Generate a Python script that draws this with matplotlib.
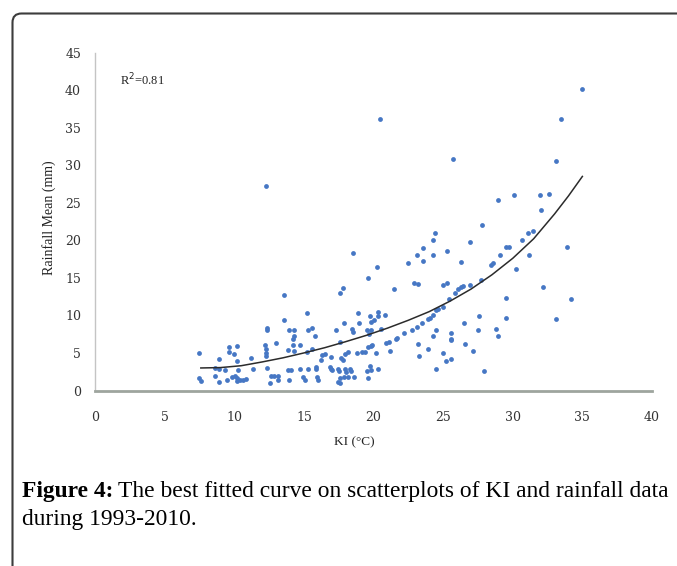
import matplotlib
matplotlib.use("Agg")
import matplotlib.pyplot as plt
from matplotlib.patches import FancyBboxPatch

# scatter points: KI (degC) and rainfall mean (mm)
ki = [
    7.49, 7.5, 7.6, 8.59, 8.93, 8.88, 8.64, 8.93, 9.33, 9.45, 9.6, 9.6, 9.98, 10.19, 10.19,
    10.24, 9.83, 10.05, 10.22, 10.17, 10.39, 10.63, 10.87, 11.2, 11.32,
    12.28, 13.59, 12.33, 12.33, 12.2, 12.3, 12.25, 12.3, 12.33, 12.63, 12.87, 13.16, 12.56,
    13.16, 12.97, 13.55, 13.83, 13.9, 14.3, 14.3, 14.24, 14.24, 14.72, 14.3, 13.88, 14.07,
    13.95, 14.72, 15.2, 15.3, 15.6, 15.8, 15.25, 15.6, 15.27, 14.95, 15.08, 15.9, 15.87,
    15.92, 15.98, 16.27, 16.5, 16.2, 16.94, 16.94, 17.03, 16.9,
    17.3, 17.59, 17.82, 17.85, 17.59, 17.47, 17.52, 17.59, 17.47, 17.82, 17.66, 17.95,
    18.14, 17.9, 18.18, 17.95, 18.3, 18.38, 18.6, 18.43, 18.55, 18.9, 18.95, 18.78, 19.14,
    19.5, 19.85, 19.66, 19.85, 20.0, 19.74, 20.34, 20.34, 19.58, 19.8, 19.86, 19.38, 19.74,
    19.81, 19.5, 19.58, 20.3, 20.2, 20.82, 20.53, 20.9, 21.13, 21.2, 21.5, 21.6, 21.7, 22.2,
    22.8, 18.0, 17.6, 18.5, 20.27, 19.58, 20.5,
    22.9, 23.2, 24.96, 25.3, 25.84, 26.1, 26.25, 26.4, 26.9, 25.43, 24.5, 24.65, 25.0,
    24.24, 23.93, 24.05, 23.45, 23.14, 24.48, 24.29, 23.2, 23.28, 23.93, 24.48, 25.0, 25.2,
    25.56, 25.53, 25.6, 25.6, 26.5, 26.56, 27.16, 27.5, 27.6, 27.9, 28.8, 28.95, 29.48,
    29.55, 32.2, 33.1, 34.2,
    30.1, 31.95, 32.6, 28.95, 32.0, 27.76, 24.4, 24.24, 23.57, 23.14, 23.57, 24.29, 25.3,
    26.92, 26.25, 22.5, 30.63, 31.1, 31.47, 29.55, 29.74, 29.07, 28.6, 28.43, 31.16, 30.22,
    33.9, 27.7, 33.5, 25.72, 33.1, 35.0,
]
rain = [
    4.97, 1.6, 1.25, 1.97, 1.17, 4.19, 3.05, 2.9, 2.77, 1.4, 5.77, 5.1, 4.89, 5.95, 3.9,
    2.73, 1.76, 1.93, 1.62, 1.25, 1.35, 1.4, 1.5, 4.35, 2.89,
    27.2, 12.65, 8.35, 8.1, 6.0, 5.5, 5.0, 4.6, 2.97, 1.9, 1.9, 1.9, 1.04,
    1.4, 6.36, 9.45, 5.33, 8.0, 8.0, 7.3, 6.9, 6.0, 6.0, 5.23, 2.7, 2.76,
    1.4, 2.9, 10.3, 8.0, 8.36, 7.3, 5.1, 5.46, 2.9, 1.86, 1.4, 3.1, 2.8,
    1.8, 1.43, 4.66, 4.9, 4.0, 4.43, 2.9, 2.76, 3.1,
    8.06, 13.0, 13.68, 8.97, 6.5, 2.9, 2.6, 1.62, 1.18, 4.0, 4.3, 4.9,
    5.1, 1.8, 1.8, 2.9, 2.9, 2.6, 1.86, 8.2, 7.76, 10.3, 8.97, 4.97, 5.1,
    8.1, 8.0, 7.5, 9.1, 9.4, 9.95, 10.5, 9.98, 5.8, 5.9, 6.0, 5.1, 3.2,
    2.77, 2.57, 1.62, 2.9, 4.97, 10.0, 8.2, 6.3, 6.43, 5.23, 13.45, 6.9, 7.0, 7.7,
    8.0, 2.44, 1.0, 18.3, 16.5, 14.95, 36.2,
    14.3, 14.2, 14.0, 14.3, 13.0, 13.5, 13.75, 13.85, 14.0, 12.2, 10.75, 10.9, 11.1,
    10.1, 9.55, 9.65, 9.0, 8.5, 8.0, 7.3, 6.2, 4.6, 5.55, 2.9, 4.97, 3.9,
    4.2, 7.63, 6.9, 6.75, 9.0, 6.2, 5.23, 8.0, 9.9, 2.6, 8.2, 7.3, 12.3,
    9.67, 13.8, 9.55, 12.2,
    26.06, 26.06, 26.2, 25.4, 24.06, 22.06, 21.0, 20.06, 18.95, 18.07, 17.2, 18.07, 18.55,
    19.75, 17.1, 17.0, 20.06, 21.0, 21.3, 19.08, 19.08, 18.07, 17.04, 16.7, 18.1, 16.2,
    19.08, 14.7, 36.2, 30.8, 30.5, 40.2,
]

# fitted curve
curve_x = [7.6, 9.0, 10.5, 12.0, 13.5, 15.0, 16.5, 18.0, 19.5, 21.0, 22.5,
           24.0, 25.5, 27.0, 28.5, 30.0, 31.5, 33.0, 34.0, 35.0]
curve_y = [3.0, 3.05, 3.3, 3.8, 4.35, 5.0, 5.7, 6.5, 7.35, 8.3, 9.35,
           10.5, 11.9, 13.5, 15.4, 17.6, 20.2, 23.5, 25.9, 28.5]

x_ticks = [0, 5, 10, 15, 20, 25, 30, 35, 40]
y_ticks = [0, 5, 10, 15, 20, 25, 30, 35, 40, 45]

W, H = 677, 566
fig = plt.figure(figsize=(W / 100, H / 100), dpi=100)

# rounded frame around the figure panel
frame = FancyBboxPatch((12.5, -30), 720, H - 13.5 + 30,
                       boxstyle="round,pad=0,rounding_size=9",
                       transform=None, fill=False, lw=1.5, ec="#3c3c3c")
fig.add_artist(frame)

ax = fig.add_axes([95 / W, (H - 390.5) / H, (652 - 95) / W, (390.5 - 52.5) / H])
ax.scatter(ki, rain, s=12, color="#4677c4", linewidths=0, zorder=3)
ax.plot(curve_x, curve_y, color="#2b2b2b", lw=1.1, zorder=4)

ax.set_xlim(0, 40)
ax.set_ylim(0, 45)
ax.set_xticks(x_ticks)
ax.set_yticks(y_ticks)
for side in ["top", "right"]:
    ax.spines[side].set_visible(False)
ax.spines["left"].set_color("#c4c4c4")
ax.spines["left"].set_linewidth(1.0)
ax.spines["bottom"].set_color("#9ea59e")
ax.spines["bottom"].set_linewidth(2.0)
ax.tick_params(axis="both", length=0, labelsize=9, labelcolor="#333333")
ax.tick_params(axis="y", pad=10)
ax.tick_params(axis="x", pad=15)
for lbl in ax.get_xticklabels() + ax.get_yticklabels():
    lbl.set_fontfamily("DejaVu Serif")

ax.set_ylabel("Rainfall Mean (mm)", fontsize=10, family="Liberation Serif", color="#222222")
ax.yaxis.set_label_coords(-0.07, 0.51)
ax.set_xlabel("KI (°C)", fontsize=9.5, family="Liberation Serif", color="#222222")
ax.xaxis.set_label_coords(0.465, -0.135)

ax.text(1.8, 41.3, "R$^2$=0.81", fontsize=9, family="Liberation Serif",
        va="center", ha="left", color="#222222")

# caption: bold lead-in followed by regular text
cap_y = 1 - 492 / H
cap_size = 16.9
t1 = fig.text(22 / W, cap_y, "Figure 4:", fontsize=cap_size, fontweight="bold",
              family="Liberation Serif", va="center", ha="left")
r = fig.canvas.get_renderer()
bb = t1.get_window_extent(renderer=r)
fig.text((bb.x1 + 5) / W, cap_y, "The best fitted curve on scatterplots of KI and rainfall data",
         fontsize=cap_size, family="Liberation Serif", va="center", ha="left")
fig.text(22 / W, 1 - 520 / H, "during 1993-2010.", fontsize=cap_size,
         family="Liberation Serif", va="center", ha="left")

fig.savefig("out.png", dpi=100)
